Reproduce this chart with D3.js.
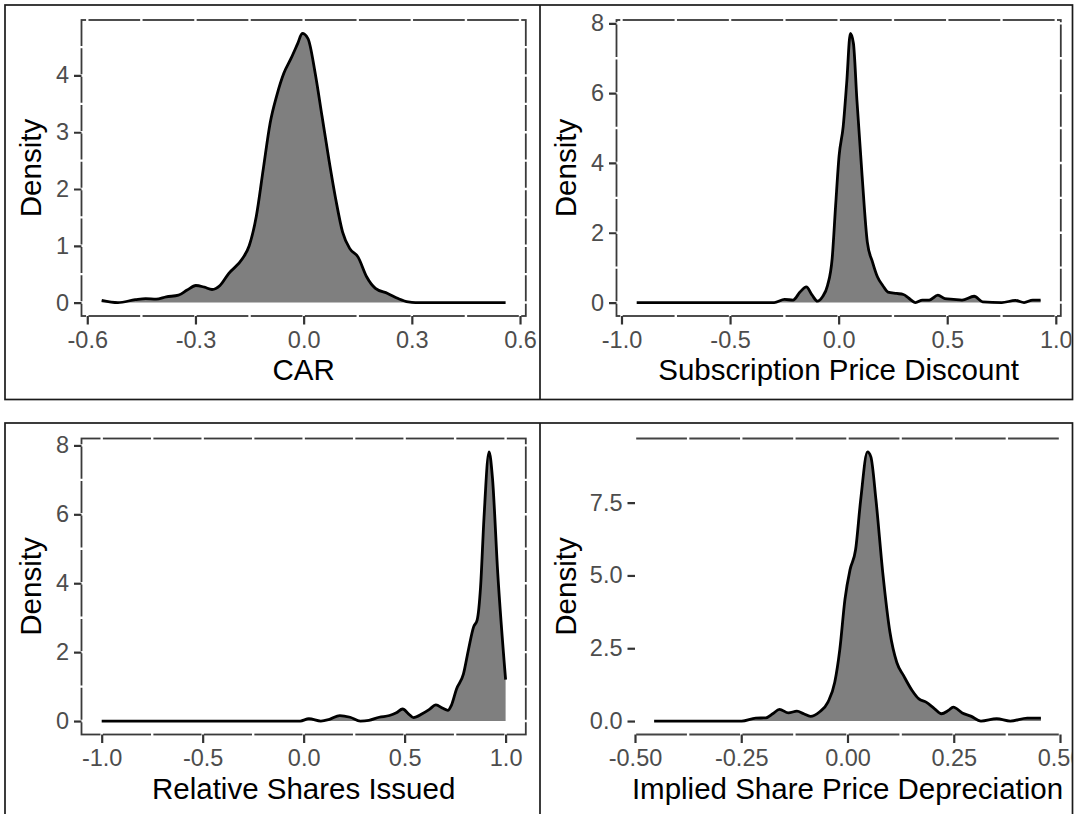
<!DOCTYPE html>
<html><head><meta charset="utf-8">
<script src="https://cdn.jsdelivr.net/npm/d3@7"></script>
<style>
body{margin:0;background:#fff;}
svg{display:block;}
text{font-family:"Liberation Sans",Arial,Helvetica,sans-serif;}
</style>
</head><body>
<svg id="c" width="1075" height="814"></svg>
<script>
// ---------- DATA ----------
const carX = [-0.56,-0.515,-0.467,-0.438,-0.409,-0.381,-0.347,-0.323,-0.299,-0.275,-0.254,-0.232,-0.208,-0.17,-0.151,-0.131,-0.112,-0.093,-0.074,-0.055,-0.035,-0.016,-0.004,0.012,0.032,0.051,0.07,0.089,0.108,0.128,0.151,0.175,0.199,0.233,0.262,0.29,0.31,0.4,0.5,0.56];
const carY = [0.04,0.0,0.05,0.07,0.06,0.10,0.13,0.22,0.30,0.27,0.23,0.30,0.51,0.77,1.0,1.53,2.35,3.16,3.66,4.04,4.30,4.57,4.74,4.65,4.04,3.28,2.52,1.82,1.24,0.95,0.80,0.45,0.25,0.16,0.07,0.01,0.0,0.0,0.0,0.0];

const spdX = [-0.93,-0.6,-0.297,-0.249,-0.21,-0.178,-0.149,-0.122,-0.098,-0.075,-0.051,-0.03,-0.014,0.002,0.021,0.037,0.054,0.068,0.084,0.108,0.132,0.156,0.179,0.203,0.227,0.267,0.298,0.322,0.354,0.386,0.417,0.457,0.489,0.529,0.568,0.624,0.663,0.751,0.814,0.854,0.894,0.93];
const spdY = [0,0,0,0.09,0.07,0.30,0.45,0.21,0.04,0.16,0.49,1.25,2.77,4.2,5.05,6.29,7.71,7.43,5.81,3.63,1.73,1.16,0.73,0.49,0.30,0.26,0.23,0.13,0.0,0.07,0.07,0.21,0.11,0.09,0.07,0.18,0.02,0.0,0.06,0.0,0.07,0.07];

const rsiX = [-1.0,-0.5,-0.017,0.026,0.085,0.128,0.179,0.23,0.281,0.323,0.374,0.425,0.459,0.49,0.519,0.544,0.587,0.621,0.655,0.689,0.714,0.731,0.757,0.791,0.816,0.842,0.859,0.876,0.893,0.918,0.935,0.961,1.0];
const rsiY = [0,0,0,0.07,0.0,0.05,0.16,0.11,0.0,0.02,0.11,0.16,0.24,0.35,0.21,0.10,0.21,0.33,0.47,0.37,0.31,0.45,0.93,1.36,2.07,2.74,2.93,3.89,5.90,7.81,7.05,4.30,1.2];

const ispX = [-0.455,-0.35,-0.249,-0.216,-0.192,-0.176,-0.16,-0.139,-0.119,-0.103,-0.087,-0.066,-0.046,-0.03,-0.018,-0.006,0.006,0.019,0.031,0.047,0.055,0.067,0.083,0.1,0.116,0.132,0.152,0.168,0.185,0.205,0.221,0.237,0.249,0.27,0.29,0.314,0.351,0.383,0.423,0.455];
const ispY = [0,0,0,0.10,0.11,0.25,0.40,0.28,0.34,0.25,0.16,0.31,0.65,1.33,2.47,4.18,5.2,5.88,7.59,9.24,9.07,7.59,5.09,3.04,2.01,1.56,1.05,0.76,0.65,0.42,0.25,0.36,0.48,0.28,0.17,0.0,0.08,0.0,0.10,0.10];

const carXTicks = [-0.6,-0.3,0,0.3,0.6];
const carXLabels = ["-0.6","-0.3","0.0","0.3","0.6"];
const carYTicks = [0,1,2,3,4];
const carYLabels = ["0","1","2","3","4"];

const unitXTicks = [-1,-0.5,0,0.5,1];
const unitXLabels = ["-1.0","-0.5","0.0","0.5","1.0"];
const evenYTicks = [0,2,4,6,8];
const evenYLabels = ["0","2","4","6","8"];

const ispXTicks = [-0.5,-0.25,0,0.25,0.5];
const ispXLabels = ["-0.50","-0.25","0.00","0.25","0.50"];
const ispYTicks = [0,2.5,5,7.5];
const ispYLabels = ["0.0","2.5","5.0","7.5"];

const titles = ["CAR","Subscription Price Discount","Relative Shares Issued","Implied Share Price Depreciation"];

// ---------- LAYOUT ----------
const svg = d3.select("#c");
const panels = [
  {id:0, cell:[5,5,540,399.5], plot:[81.5,525.8,20,316], xs:carX, ys:carY, xt:carXTicks, xl:carXLabels, yt:carYTicks, yl:carYLabels, fixedX:null, style:"bw"},
  {id:1, cell:[540,5,1072.5,399.5], plot:[616.5,1060.8,20,316], xs:spdX, ys:spdY, xt:unitXTicks, xl:unitXLabels, yt:evenYTicks, yl:evenYLabels, fixedX:null, style:"bw"},
  {id:2, cell:[5,423,540,814], plot:[81.5,525.8,438.5,734.5], xs:rsiX, ys:rsiY, xt:unitXTicks, xl:unitXLabels, yt:evenYTicks, yl:evenYLabels, fixedX:null, style:"bw"},
  {id:3, cell:[540,423,1072.5,814], plot:[635,1060,438.5,734.5], xs:ispX, ys:ispY, xt:ispXTicks, xl:ispXLabels, yt:ispYTicks, yl:ispYLabels, fixedX:[-0.5,0.5], style:"open"}
];

const defs = svg.append("defs");

function minorsOf(ticks, dom){
  const step = ticks[1]-ticks[0];
  const out = [];
  for (let i=-1;i<ticks.length;i++){
    const m = ticks[0] + (i+0.5)*step;
    if (m>=dom[0] && m<=dom[1]) out.push(m);
  }
  return out;
}

panels.forEach(p => {
  const [cx0,cy0,cx1,cy1] = p.cell;
  defs.append("clipPath").attr("id","clip"+p.id)
    .append("rect").attr("x",cx0+1).attr("y",cy0+1).attr("width",cx1-cx0-2).attr("height",cy1-cy0-2);
  const g = svg.append("g").attr("clip-path","url(#clip"+p.id+")");
  const [L,R,T,B] = p.plot;

  let xd;
  if (p.fixedX) xd = p.fixedX;
  else {
    const e = d3.extent(p.xs); const w = e[1]-e[0];
    xd = [e[0]-0.05*w, e[1]+0.05*w];
  }
  const ymax = d3.max(p.ys);
  const yd = [-0.05*ymax, 1.05*ymax];
  const x = d3.scaleLinear().domain(xd).range([L,R]);
  const y = d3.scaleLinear().domain(yd).range([B,T]);

  // panel border
  if (p.style==="bw"){
    g.append("rect").attr("x",L).attr("y",T).attr("width",R-L).attr("height",B-T)
      .attr("fill","none").attr("stroke","#3a3a3a").attr("stroke-width",1.8);
  } else {
    g.append("line").attr("x1",L).attr("x2",L).attr("y1",T).attr("y2",B).attr("stroke","#e8e8e8").attr("stroke-width",1.2);
    g.append("line").attr("x1",R).attr("x2",R).attr("y1",T).attr("y2",B).attr("stroke","#e8e8e8").attr("stroke-width",1.2);
    g.append("line").attr("x1",L).attr("x2",R).attr("y1",T).attr("y2",T).attr("stroke","#444").attr("stroke-width",1.8);
    g.append("line").attr("x1",L).attr("x2",R).attr("y1",B).attr("y2",B).attr("stroke","#444").attr("stroke-width",1.8);
  }

  // white grid lines (visible only where they cross the border)
  const xg = p.xt.filter(v=>v>=xd[0]-1e-9 && v<=xd[1]+1e-9).concat(minorsOf(p.xt,xd));
  const yg = p.yt.filter(v=>v>=yd[0] && v<=yd[1]).concat(minorsOf(p.yt,yd));
  g.selectAll(null).data(xg).join("line")
    .attr("x1",d=>x(d)).attr("x2",d=>x(d)).attr("y1",T-3).attr("y2",B+3)
    .attr("stroke","#fff").attr("stroke-width",2.4);
  if (p.style==="bw"){
    g.selectAll(null).data(yg).join("line")
      .attr("y1",d=>y(d)).attr("y2",d=>y(d)).attr("x1",L-3).attr("x2",R+3)
      .attr("stroke","#fff").attr("stroke-width",2.4);
  }

  // density
  const pts = p.xs.map((v,i)=>[v,p.ys[i]]);
  const curve = d3.curveMonotoneX;
  g.append("path").datum(pts)
    .attr("d", d3.area().x(d=>x(d[0])).y0(y(0)).y1(d=>y(d[1])).curve(curve))
    .attr("fill","#7f7f7f");
  g.append("path").datum(pts)
    .attr("d", d3.line().x(d=>x(d[0])).y(d=>y(d[1])).curve(curve))
    .attr("fill","none").attr("stroke","#000").attr("stroke-width",2.8).attr("stroke-linejoin","round");

  // axes
  const xa = g.append("g").attr("transform",`translate(0,${B})`)
    .call(d3.axisBottom(x).tickValues(p.xt).tickFormat((d,i)=>p.xl[i]).tickSize(8.5).tickPadding(6.5).tickSizeOuter(0));
  const ya = g.append("g").attr("transform",`translate(${L},0)`)
    .call(d3.axisLeft(y).tickValues(p.yt).tickFormat((d,i)=>p.yl[i]).tickSize(7.5).tickPadding(5).tickSizeOuter(0));
  [xa,ya].forEach(a=>{
    a.select(".domain").remove();
    a.selectAll(".tick line").attr("stroke","#333").attr("stroke-width",2.2);
    a.selectAll(".tick text").attr("fill","#4d4d4d").style("font-size","23.5px");
  });

  // titles
  g.append("text").attr("x",(L+R)/2).attr("y",B+64).attr("text-anchor","middle")
    .style("font-size","29.5px").attr("fill","#000").text(titles[p.id]);
  g.append("text").attr("transform",`translate(${cx0+35.5},${(T+B)/2}) rotate(-90)`)
    .attr("text-anchor","middle").style("font-size","29.5px").attr("fill","#000").text("Density");
});

// outer frames
const fr = svg.append("g").attr("fill","none").attr("stroke","#1a1a1a").attr("stroke-width",1.7);
fr.append("rect").attr("x",5).attr("y",5).attr("width",1067.5).attr("height",394.5);
fr.append("line").attr("x1",540).attr("x2",540).attr("y1",5).attr("y2",399.5);
fr.append("rect").attr("x",5).attr("y",423).attr("width",1067.5).attr("height",500);
fr.append("line").attr("x1",540).attr("x2",540).attr("y1",423).attr("y2",814);
</script>
</body></html>
